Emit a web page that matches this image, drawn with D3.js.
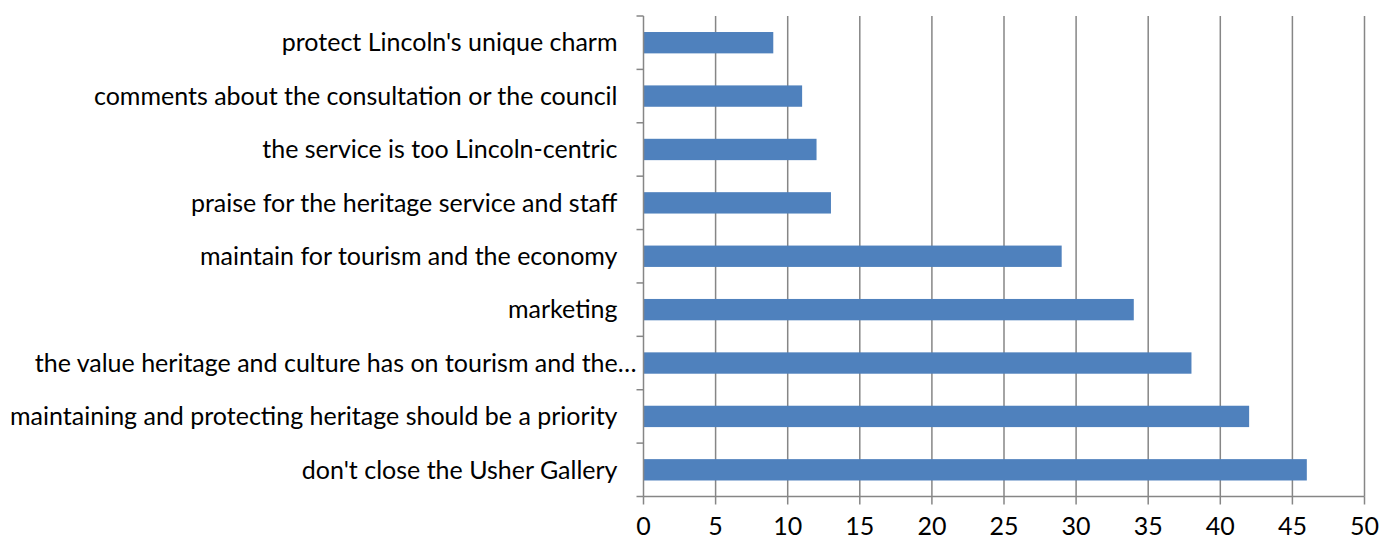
<!DOCTYPE html>
<html><head><meta charset="utf-8">
<script src="https://cdn.jsdelivr.net/npm/d3@7"></script>
<style>body{margin:0;background:#fff;} svg{display:block;}</style>
</head><body>
<svg id="chart" width="1381" height="541"></svg>
<script>
const categories = [
  "protect Lincoln's unique charm",
  "comments about the consultation or the council",
  "the service is too Lincoln-centric",
  "praise for the heritage service and staff",
  "maintain for tourism and the economy",
  "marketing",
  "the value heritage and culture has on tourism and the…",
  "maintaining and protecting heritage should be a priority",
  "don't close the Usher Gallery"
];
const values = [9, 11, 12, 13, 29, 34, 38, 42, 46];
const xTicks = [0, 5, 10, 15, 20, 25, 30, 35, 40, 45, 50];

(function () {
const svg = d3.select("#chart");
const pLeft = 643.5, pRight = 1364.5, pTop = 16, pBottom = 496.5;
const font = "Lato, 'Open Sans', sans-serif";
const fs = 25;

const x = d3.scaleLinear().domain([0, 50]).range([pLeft, pRight]);
const y = d3.scaleBand().domain(categories).range([pTop, pBottom]).paddingInner(0.6).paddingOuter(0.3);
const yEdge = d3.scaleLinear().domain([0, categories.length]).range([pTop, pBottom]);

svg.append("g").selectAll("line").data(xTicks.slice(1)).join("line")
  .attr("x1", d => x(d)).attr("x2", d => x(d))
  .attr("y1", pTop).attr("y2", pBottom)
  .attr("stroke", "#868686").attr("stroke-width", 1.5);

svg.append("g").selectAll("rect").data(categories).join("rect")
  .attr("x", x(0)).attr("y", d => y(d))
  .attr("width", (d, i) => x(values[i]) - x(0))
  .attr("height", y.bandwidth())
  .attr("fill", "#4F81BD");

svg.append("line").attr("x1", pLeft).attr("x2", pLeft).attr("y1", pTop).attr("y2", pBottom)
  .attr("stroke", "#868686").attr("stroke-width", 1.5);
svg.append("g").selectAll("line").data(d3.range(categories.length + 1)).join("line")
  .attr("x1", pLeft - 7).attr("x2", pLeft)
  .attr("y1", d => yEdge(d)).attr("y2", d => yEdge(d))
  .attr("stroke", "#868686").attr("stroke-width", 1.5);

svg.append("line").attr("x1", pLeft).attr("x2", pRight).attr("y1", pBottom).attr("y2", pBottom)
  .attr("stroke", "#868686").attr("stroke-width", 1.5);
svg.append("g").selectAll("line").data(xTicks).join("line")
  .attr("x1", d => x(d)).attr("x2", d => x(d))
  .attr("y1", pBottom).attr("y2", pBottom + 8)
  .attr("stroke", "#868686").attr("stroke-width", 1.5);

svg.append("g").selectAll("text").data(xTicks).join("text")
  .attr("x", d => x(d)).attr("y", 535)
  .attr("text-anchor", "middle")
  .attr("font-family", font).attr("font-size", fs).attr("fill", "#000")
  .text(d => d);

svg.append("g").selectAll("text").data(categories).join("text")
  .attr("x", d => d.endsWith("…") ? pLeft - 7 : pLeft - 26)
  .attr("y", d => y(d) + y.bandwidth() / 2)
  .attr("dy", "0.35em")
  .attr("text-anchor", "end")
  .attr("font-family", font).attr("font-size", fs).attr("fill", "#000")
  .text(d => d);
})();
</script>
</body></html>
